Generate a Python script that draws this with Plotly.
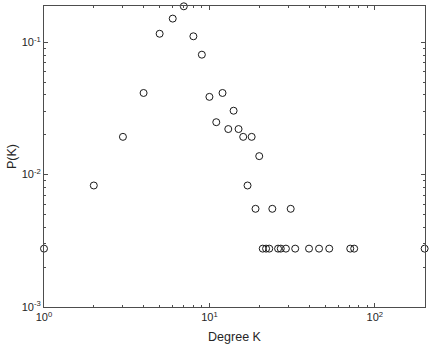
import plotly.graph_objects as go
import numpy as np

degree_k = [1, 2, 3, 4, 5, 6, 7, 8, 9, 10, 11, 12, 13, 14, 15, 16, 17, 18, 19, 20,
            21, 22, 23, 24, 26, 27, 29, 31, 33, 40, 46, 53, 71, 75, 200]
p_k = [0.00276, 0.00828, 0.0193, 0.0414, 0.116, 0.151, 0.187, 0.111, 0.0806, 0.0387,
       0.0249, 0.0414, 0.0221, 0.0304, 0.0221, 0.0193, 0.00828, 0.0193, 0.00552, 0.0138,
       0.00276, 0.00276, 0.00276, 0.00552, 0.00276, 0.00276, 0.00276, 0.00552, 0.00276,
       0.00276, 0.00276, 0.00276, 0.00276, 0.00276, 0.00276]

x_tickvals = [1, 10, 100]
x_ticktext = ["10<sup>0</sup>", "10<sup>1</sup>", "10<sup>2</sup>"]
y_tickvals = [0.001, 0.01, 0.1]
y_ticktext = ["10<sup>-3</sup>", "10<sup>-2</sup>", "10<sup>-1</sup>"]
x_minor = [m * d for d in (1, 10, 100) for m in range(2, 10) if m * d <= 200]
y_minor = [m * d for d in (0.001, 0.01, 0.1) for m in range(2, 10) if m * d <= 0.188]

axis_color = "#4d4d4d"
tick_font = dict(family="Liberation Sans, Arial, sans-serif", size=11, color="#262626")
title_font = dict(family="Liberation Sans, Arial, sans-serif", size=12.5, color="#262626")

fig = go.Figure()
fig.add_trace(go.Scatter(
    x=degree_k, y=p_k, mode="markers",
    marker=dict(symbol="circle-open", size=7, color="#1a1a1a", line=dict(width=1, color="#1a1a1a")),
    cliponaxis=False, showlegend=False,
))

common = dict(
    showgrid=False, zeroline=False, showline=True, linecolor=axis_color, linewidth=1,
    mirror="ticks", ticks="inside", ticklen=4, tickcolor=axis_color, tickwidth=1,
    tickfont=tick_font,
)

fig.update_xaxes(type="log", range=[0, np.log10(201)], tickmode="array",
                 tickvals=x_tickvals, ticktext=x_ticktext,
                 minor=dict(tickmode="array", tickvals=x_minor, ticks="inside", ticklen=2,
                            tickcolor=axis_color, tickwidth=1, showgrid=False),
                 title=dict(text="Degree K", font=title_font, standoff=10), **common)
fig.update_yaxes(type="log", range=[-3, np.log10(0.188)], tickmode="array",
                 tickvals=y_tickvals, ticktext=y_ticktext,
                 minor=dict(tickmode="array", tickvals=y_minor, ticks="inside", ticklen=2,
                            tickcolor=axis_color, tickwidth=1, showgrid=False),
                 title=dict(text="P(K)", font=title_font, standoff=2), **common)

fig.update_layout(
    width=432, height=349,
    margin=dict(l=44, r=7, t=6, b=42),
    paper_bgcolor="white", plot_bgcolor="white",
    font=tick_font,
)

fig.write_html("out.html", config={"displayModeBar": False},
               post_script="document.body.style.margin='0';")
